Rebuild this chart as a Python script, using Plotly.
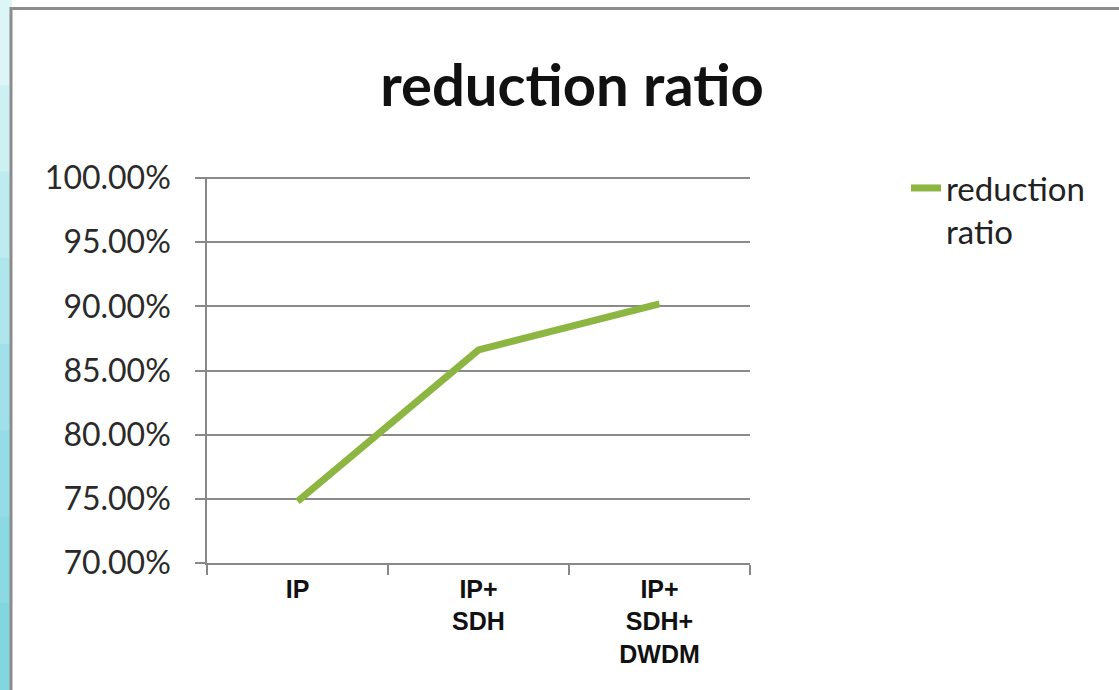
import plotly.graph_objects as go

categories = ["IP", "IP+<br>SDH", "IP+<br>SDH+<br>DWDM"]
values = [0.748, 0.866, 0.902]
series_name = "reduction<br>ratio"
title_text = "reduction ratio"

W, H = 1119, 690
L, R, T, B = 207, 750, 177, 563

def px(x):
    return (x - L) / (R - L)

def py(y):
    return (B - y) / (B - T)

fig = go.Figure()
fig.add_trace(go.Scatter(
    x=categories, y=values, mode="lines", name=series_name,
    line=dict(color="#8cb542", width=7),
))

shapes = []
# cyan gradient strip on left
cyans = ["#dcf5f7", "#cdf0f3", "#bdebf0", "#aee6ec", "#a0e1e9", "#94dde6", "#8ad9e3", "#82d6e0"]
n = len(cyans)
for i, c in enumerate(cyans):
    y0p = i * H / n
    y1p = (i + 1) * H / n
    shapes.append(dict(type="rect", xref="paper", yref="paper", layer="below",
                       x0=px(-5), x1=px(12), y0=py(y1p + 1), y1=py(y0p - 1),
                       fillcolor=c, line=dict(width=0)))
# white panel with gray border
shapes.append(dict(type="rect", xref="paper", yref="paper", layer="below",
                   x0=px(11), x1=px(1200), y0=py(760), y1=py(8.5),
                   fillcolor="white", line=dict(color="#8c8c8c", width=3)))

fig.update_layout(
    width=W, height=H,
    margin=dict(l=L, r=W - R, t=T, b=H - B, pad=0),
    paper_bgcolor="white", plot_bgcolor="rgba(0,0,0,0)",
    shapes=shapes,
    title=dict(text="<b>" + title_text + "</b>", x=572 / W, xanchor="center",
               y=1 - 86 / H, yanchor="middle", yref="container",
               font=dict(family="Lato", size=58, color="#111")),
    xaxis=dict(
        type="category", tickson="boundaries", ticks="outside", ticklen=10,
        tickcolor="#888", tickwidth=1.5, showgrid=False,
        showline=True, linecolor="#888", linewidth=1.5,
        ticklabelstandoff=3,
        tickfont=dict(family="Liberation Sans", size=25, color="#111", weight="bold"),
        range=[-0.5, 2.5],
    ),
    yaxis=dict(
        range=[0.70, 1.0008], tickvals=[0.70, 0.75, 0.80, 0.85, 0.90, 0.95, 1.00],
        tickformat=".2%",
        showgrid=True, gridcolor="#8a8a8a", gridwidth=1.5,
        showline=True, linecolor="#888", linewidth=1.5,
        ticks="outside", ticklen=10, tickcolor="#888", tickwidth=1.5,
        ticklabelstandoff=18,
        tickfont=dict(family="Lato", size=32, color="#2a2a2a"),
        zeroline=False,
    ),
    showlegend=True,
    legend=dict(x=px(906), y=py(160), xanchor="left", yanchor="top",
                valign="top",
                font=dict(family="Lato", size=33, color="#222"),
                bgcolor="rgba(0,0,0,0)"),
)

fig.write_html("out.html", post_script="document.body.style.margin='0';",
               config={"displayModeBar": False})
